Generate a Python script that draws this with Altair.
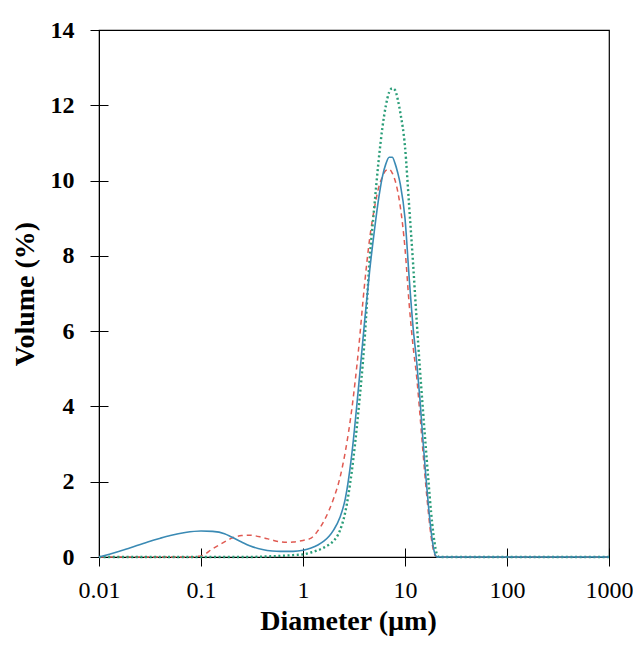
import altair as alt
import pandas as pd

# Particle size distribution (volume %)
DIAM = [0.01, 0.015, 0.02, 0.03, 0.04, 0.05, 0.07, 0.1, 0.13, 0.17,
        0.2, 0.25, 0.3, 0.4, 0.5, 0.6, 0.7, 0.8, 1.0, 1.2,
        1.4, 1.6, 1.8, 2.0, 2.3, 2.6, 3.0, 3.5, 4.0, 4.5,
        5.0, 5.5, 6.0, 6.5, 7.0, 7.5, 8.0, 8.5, 9.0, 10,
        11, 12, 13, 14, 15, 16, 17, 18, 19, 20,
        21, 22, 25, 30, 50, 100, 200, 500, 1000]

BLUE = [0, 0.13, 0.24, 0.40, 0.50, 0.57, 0.65, 0.69, 0.68, 0.62,
        0.53, 0.40, 0.30, 0.20, 0.16, 0.15, 0.15, 0.15, 0.18, 0.24,
        0.32, 0.42, 0.55, 0.72, 1.05, 1.55, 2.7, 4.5, 6.2, 7.6,
        8.65, 9.5, 10.1, 10.45, 10.62, 10.62, 10.45, 10.2, 9.9, 9.0,
        7.4, 6.1, 5.2, 4.2, 3.1, 2.15, 1.35, 0.7, 0.25, 0.03,
        0, 0, 0, 0, 0, 0, 0, 0, 0]

RED = [0, 0, 0, 0, 0, 0, 0, 0.03, 0.22, 0.40,
       0.50, 0.57, 0.58, 0.52, 0.45, 0.40, 0.39, 0.40, 0.44, 0.50,
       0.70, 0.95, 1.24, 1.56, 2.1, 2.8, 3.9, 5.5, 7.2, 8.45,
       9.25, 9.8, 10.1, 10.27, 10.3, 10.2, 10.0, 9.7, 9.3, 8.2,
       6.7, 5.6, 4.8, 3.8, 2.8, 1.9, 1.15, 0.55, 0.18, 0.02,
       0, 0, 0, 0, 0, 0, 0, 0, 0]

GREEN = [0, 0, 0, 0, 0, 0, 0, 0, 0, 0,
         0, 0, 0, 0.01, 0.02, 0.03, 0.04, 0.05, 0.07, 0.12,
         0.18, 0.25, 0.33, 0.43, 0.7, 1.2, 2.25, 3.9, 5.7, 7.9,
         9.3, 10.5, 11.4, 12.0, 12.35, 12.45, 12.4, 12.15, 11.8, 10.9,
         9.3, 7.8, 6.3, 5.0, 3.9, 2.9, 2.0, 1.2, 0.6, 0.2,
         0.02, 0, 0, 0, 0, 0, 0, 0, 0]

X_TICKS = [0.01, 0.1, 1, 10, 100, 1000]
Y_TICKS = [0, 2, 4, 6, 8, 10, 12, 14]

FONT = "Liberation Serif"
W, H = 510, 527


def frame(vals):
    return pd.DataFrame({"d": DIAM, "v": vals})


xscale = alt.Scale(type="log", domain=[0.01, 1000])
yscale = alt.Scale(domain=[0, 14], nice=False)

x_main = alt.X("d:Q", scale=xscale, axis=alt.Axis(
    values=X_TICKS, format="~g", title="Diameter (µm)", orient="bottom",
    tickSize=9, labelPadding=12, labelFlush=False, labelOverlap=False,
    labelFont=FONT, labelFontSize=24, labelColor="black",
    titleFont=FONT, titleFontSize=28, titleFontWeight="bold", titleColor="black",
    titleX=249, titleY=72, titleBaseline="alphabetic",
    domainColor="black", tickColor="black", grid=False))
y_main = alt.Y("v:Q", scale=yscale, axis=alt.Axis(
    values=Y_TICKS, title="Volume (%)", orient="left",
    tickSize=9, labelPadding=16, labelFlush=False, labelOverlap=False,
    labelFont=FONT, labelFontSize=24, labelFontWeight="bold", labelColor="black",
    titleFont=FONT, titleFontSize=28, titleFontWeight="bold", titleColor="black",
    titleX=-66, titleBaseline="alphabetic",
    domainColor="black", tickColor="black", grid=False))

x_plain = alt.X("d:Q", scale=xscale, axis=None)
y_plain = alt.Y("v:Q", scale=yscale, axis=None)

# inward half of the crossing ticks
x_in = alt.X("d:Q", scale=xscale, axis=alt.Axis(
    values=X_TICKS, orient="top", offset=-H, tickSize=9, labels=False,
    domain=False, title=None, grid=False, tickColor="black"))
y_in = alt.Y("v:Q", scale=yscale, axis=alt.Axis(
    values=Y_TICKS, orient="right", offset=-W, tickSize=9, labels=False,
    domain=False, title=None, grid=False, tickColor="black"))

ticks_in = alt.Chart(frame(BLUE)).mark_line(opacity=0).encode(x=x_in, y=y_in)

red = alt.Chart(frame(RED)).mark_line(
    color="#e05a52", strokeDash=[5, 4], strokeWidth=1.5, interpolate="monotone"
).encode(x=x_main, y=y_main)

green = alt.Chart(frame(GREEN)).mark_line(
    color="#2a9d78", strokeDash=[2, 2.6], strokeWidth=2.4, interpolate="monotone"
).encode(x=x_plain, y=y_plain)

blue = alt.Chart(frame(BLUE)).mark_line(
    color="#3a8ab4", strokeWidth=1.6, interpolate="monotone"
).encode(x=x_plain, y=y_plain)

chart = alt.layer(red, green, blue, ticks_in).resolve_axis(
    x="independent", y="independent"
).properties(
    width=W, height=H,
    autosize=alt.AutoSizeParams(type="none"),
    padding={"left": 91, "top": 22, "right": 24, "bottom": 81},
    background="white",
).configure_view(stroke="black", strokeWidth=1.2)

chart.save("out.html", embed_options={"renderer": "svg", "actions": False})
